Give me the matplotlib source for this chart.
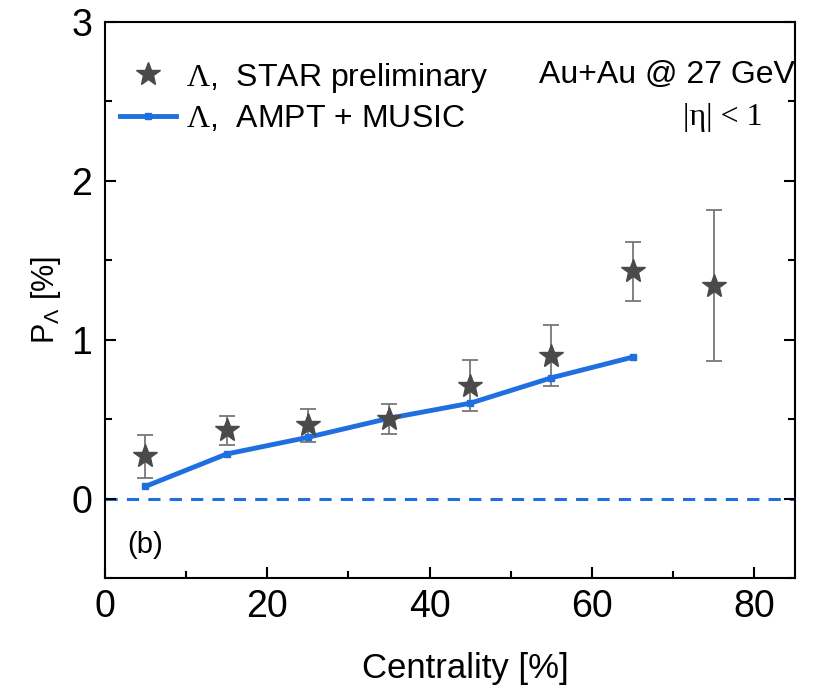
import matplotlib
matplotlib.use("Agg")
import matplotlib.pyplot as plt
from matplotlib.ticker import MultipleLocator

plt.rcParams['font.family'] = ['Liberation Sans', 'DejaVu Sans']
plt.rcParams['mathtext.fontset'] = 'custom'
plt.rcParams['mathtext.rm'] = 'Liberation Serif'
plt.rcParams['mathtext.sf'] = 'Liberation Sans'

centrality = [5, 15, 25, 35, 45, 55, 65, 75]
star_p = [0.265, 0.43, 0.46, 0.50, 0.71, 0.90, 1.43, 1.34]
star_err = [0.135, 0.09, 0.105, 0.095, 0.16, 0.19, 0.185, 0.475]

model_x = [5, 15, 25, 35, 45, 55, 65]
model_p = [0.076, 0.28, 0.385, 0.505, 0.60, 0.76, 0.89]

blue = '#1f6fe0'

fig = plt.figure(figsize=(8.18, 6.88), dpi=100)
ax = fig.add_axes([0.128, 0.16, 0.844, 0.808])

ax.axhline(0, color=blue, lw=2.2, ls=(0, (4, 3)), zorder=1)
ax.errorbar(centrality, star_p, yerr=star_err, fmt='none', ecolor='#777777',
            elinewidth=1.3, capsize=6, capthick=1.3, zorder=2)
ax.plot(centrality, star_p, ls='none', marker='*', ms=18, color='#4a4a4a',
        label=r'$\mathrm{\Lambda}$,  STAR preliminary', zorder=4)
ax.plot(model_x, model_p, color=blue, lw=3.5, marker='s', ms=4,
        label=r'$\mathrm{\Lambda}$,  AMPT + MUSIC', zorder=3)

ax.set_xlim(0, 85)
ax.set_ylim(-0.5, 3)
ax.xaxis.set_major_locator(MultipleLocator(20))
ax.xaxis.set_minor_locator(MultipleLocator(10))
ax.yaxis.set_major_locator(MultipleLocator(1))
ax.yaxis.set_minor_locator(MultipleLocator(0.5))
ax.tick_params(which='both', direction='in', labelsize=27, right=True, width=1.5)
ax.tick_params(axis='x', pad=8)
ax.tick_params(axis='y', pad=9)
ax.tick_params(which='major', length=8)
ax.tick_params(which='minor', length=5)
for s in ax.spines.values():
    s.set_linewidth(1.5)

ax.set_xlabel('Centrality [%]', fontsize=25)
ax.xaxis.set_label_coords(0.523, -0.133)
ax.set_ylabel(r'P$_{\mathsf{\Lambda}}$ [%]', fontsize=22, labelpad=6)

leg = ax.legend(loc='upper left', bbox_to_anchor=(-0.005, 0.965), frameon=False,
                fontsize=23, handlelength=1.75, handletextpad=0.3,
                labelspacing=0.3, borderaxespad=0.2)

ax.text(0.999, 0.905, 'Au+Au @ 27 GeV', transform=ax.transAxes, ha='right',
        va='center', fontsize=23)
ax.text(0.895, 0.828, '|η| < 1', transform=ax.transAxes, ha='center',
        va='center', fontsize=23, family=['Liberation Serif', 'DejaVu Serif'])
ax.text(5.0, -0.29, '(b)', fontsize=21, ha='center', va='center')

fig.savefig('out.png', dpi=100)
